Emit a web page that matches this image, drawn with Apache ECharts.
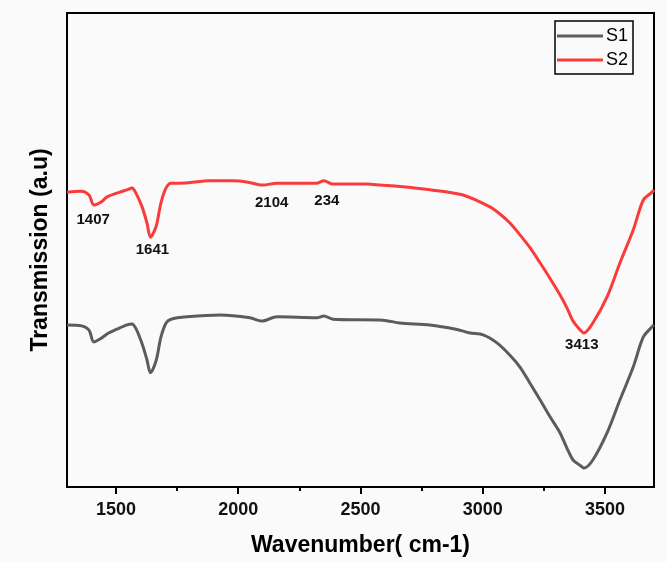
<!DOCTYPE html>
<html>
<head>
<meta charset="utf-8">
<script src="https://cdn.jsdelivr.net/npm/echarts@6/dist/echarts.min.js"></script>
<style>
html,body{margin:0;padding:0;background:#fafafa;}
#chart{width:667px;height:562px;}
</style>
</head>
<body>
<div id="chart"></div>
<script>
// Wavenumber (cm-1) and transmission (a.u.)
const s1Wavenumber = [1300,1360,1390,1410,1440,1470,1504,1545,1566,1582,1607,1627,1641,1664,1684,1705,1725,1791,1926,2048,2095,2159,2322,2350,2387,2592,2661,2784,2890,2948,3001,3058,3111,3152,3193,3234,3275,3316,3344,3369,3397,3413,3450,3508,3561,3615,3656,3692,3700];
const s1Values     = [34.2,34.0,33.1,30.6,31.4,32.5,33.3,34.2,34.4,33.4,30.2,26.8,24.1,26.6,31.6,34.6,35.4,35.9,36.3,35.7,35.0,35.9,35.7,36.1,35.4,35.2,34.6,34.2,33.3,32.5,32.1,30.4,27.8,25.3,21.9,18.4,14.8,11.4,8.2,5.7,4.6,4.0,5.7,11.4,18.4,25.3,31.6,33.8,34.2];

const s2Wavenumber = [1300,1357,1390,1410,1439,1464,1504,1545,1566,1582,1607,1627,1641,1664,1684,1705,1725,1762,1885,1979,2040,2100,2159,2322,2350,2387,2527,2580,2661,2784,2919,3029,3070,3111,3152,3193,3234,3275,3316,3344,3369,3397,3413,3450,3508,3561,3615,3656,3692,3700];
const s2Values     = [62.2,62.4,61.6,59.5,60.1,61.2,62.0,62.7,63.1,62.0,59.1,55.7,52.7,54.9,59.9,63.1,64.1,64.1,64.6,64.6,64.3,63.7,64.1,64.1,64.6,63.9,63.9,63.7,63.4,62.7,61.6,59.1,57.6,55.7,53.2,50.5,47.3,44.0,40.5,37.8,35.0,33.2,32.5,34.6,40.1,47.3,54.2,60.5,62.2,62.7];

const seriesNames = ['S1','S2'];
const majorTicks = [1500,2000,2500,3000,3500];
const minorTicks = [1750,2250,2750,3250];

// Peak annotations: label text, wavenumber, value on S2, label offset
const peakLabels = ['1407','1641','2104','234','3413'];
const peakX      = [1407,1641,2100,2350,3413];
const peakY      = [59.6,52.7,63.7,64.6,32.5];
const peakOffset = [[0,15],[2,13],[9,18],[3,20],[-2,12]];

const FONT = 'Arial, "Liberation Sans", sans-serif';

const chart = echarts.init(document.getElementById('chart'));
const toPairs = (xs, ys) => xs.map((x, i) => [x, ys[i]]);

chart.setOption({
  backgroundColor: '#fafafa',
  animation: false,
  grid: {left: 67, right: 13, top: 13, bottom: 75, show: true, borderColor: '#000', borderWidth: 2, backgroundColor: 'transparent'},
  legend: {
    data: seriesNames,
    orient: 'vertical',
    left: 555, top: 21,
    icon: 'rect', itemWidth: 46, itemHeight: 3, itemGap: 6,
    padding: [6, 5, 5, 2],
    borderColor: '#000', borderWidth: 1.5,
    textStyle: {fontFamily: FONT, fontSize: 18, color: '#000', padding: [0,0,0,-2]}
  },
  xAxis: [{
    type: 'value', min: 1300, max: 3700,
    name: 'Wavenumber( cm-1)', nameLocation: 'middle', nameGap: 47,
    nameTextStyle: {fontFamily: FONT, fontSize: 23, fontWeight: 'bold', color: '#000'},
    axisLine: {show: true, lineStyle: {color: '#000', width: 2}},
    axisTick: {show: true, customValues: majorTicks, length: 7, lineStyle: {color: '#000', width: 2}},
    axisLabel: {customValues: majorTicks, margin: 14, formatter: v => String(v),
                fontFamily: FONT, fontSize: 18, fontWeight: 'bold', color: '#111'},
    splitLine: {show: false}
  }, {
    type: 'value', min: 1300, max: 3700, position: 'bottom',
    axisLine: {show: false},
    axisTick: {show: true, customValues: minorTicks, length: 4, lineStyle: {color: '#000', width: 2}},
    axisLabel: {show: false},
    splitLine: {show: false}
  }],
  yAxis: {
    type: 'value', min: 0, max: 100,
    name: 'Transmission (a.u)', nameLocation: 'middle', nameGap: 15,
    nameTextStyle: {fontFamily: FONT, fontSize: 23, fontWeight: 'bold', color: '#000'},
    axisLine: {show: true, lineStyle: {color: '#000', width: 2}},
    axisTick: {show: false}, axisLabel: {show: false}, splitLine: {show: false}
  },
  series: [{
    name: seriesNames[0], type: 'line', showSymbol: false, smooth: 0.3,
    data: toPairs(s1Wavenumber, s1Values),
    lineStyle: {color: '#5c5c5c', width: 3}, itemStyle: {color: '#5c5c5c'}
  }, {
    name: seriesNames[1], type: 'line', showSymbol: false, smooth: 0.3,
    data: toPairs(s2Wavenumber, s2Values),
    lineStyle: {color: '#fa3b3b', width: 3}, itemStyle: {color: '#fa3b3b'},
    markPoint: {
      symbol: 'circle', symbolSize: 0,
      data: peakLabels.map((t, i) => ({
        coord: [peakX[i], peakY[i]], value: t,
        label: {show: true, position: 'inside', offset: peakOffset[i], formatter: t,
                fontFamily: FONT, fontSize: 15, fontWeight: 'bold', color: '#111'}
      }))
    }
  }]
});
</script>
</body>
</html>
